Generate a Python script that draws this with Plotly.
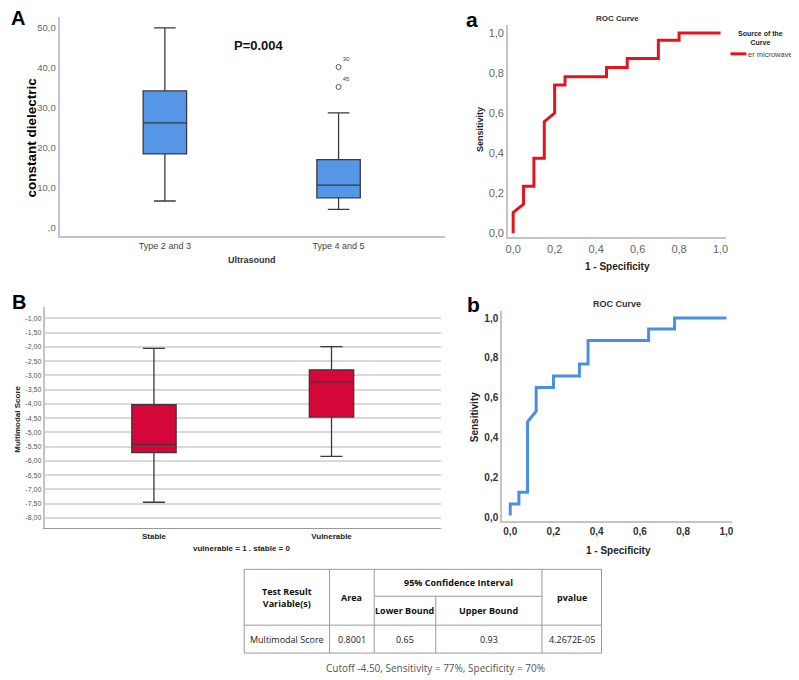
import plotly.graph_objects as go

# ---- panel A: dielectric constant by ultrasound type ----
a_groups = ["Type 2 and 3", "Type 4 and 5"]
a_low = [6.6, 4.5]
a_q1 = [18.4, 7.4]
a_med = [26.2, 10.6]
a_q3 = [34.2, 17.0]
a_high = [50.0, 28.7]
a_out_y = [40.2, 35.2]
a_out_lbl = ["30", "45"]
a_ticks = [0, 10, 20, 30, 40, 50]
a_ticktext = [",0", "10,0", "20,0", "30,0", "40,0", "50,0"]

# ---- panel a: ROC for dielectric ----
roc_a_x = [0, 0, 0.05, 0.05, 0.1, 0.1, 0.15, 0.15, 0.2, 0.2, 0.25, 0.25,
           0.45, 0.45, 0.55, 0.55, 0.7, 0.7, 0.8, 0.8, 1.0]
roc_a_y = [0, 0.104, 0.146, 0.235, 0.235, 0.375, 0.375, 0.557, 0.60, 0.74, 0.74, 0.782,
           0.782, 0.828, 0.828, 0.872, 0.872, 0.964, 0.964, 1.0, 1.0]

# ---- panel B: multimodal score ----
b_groups = ["Stable", "Vulnerable"]
b_low = [-7.45, -5.84]
b_q1 = [-5.71, -4.46]
b_med = [-5.42, -3.22]
b_q3 = [-4.02, -2.80]
b_high = [-2.05, -1.99]
b_ticks = [-1.0, -1.5, -2.0, -2.5, -3.0, -3.5, -4.0, -4.5, -5.0, -5.5, -6.0, -6.5, -7.0, -7.5, -8.0]
b_ticktext = ["-1,00", "-1,50", "-2,00", "-2,50", "-3,00", "-3,50", "-4,00", "-4,50",
              "-5,00", "-5,50", "-6,00", "-6,50", "-7,00", "-7,50", "-8,00"]

# ---- panel b: ROC for multimodal score ----
roc_b_x = [0, 0, 0.04, 0.04, 0.08, 0.08, 0.12, 0.12, 0.2, 0.2, 0.32, 0.32,
           0.36, 0.36, 0.64, 0.64, 0.76, 0.76, 1.0]
roc_b_y = [0.01, 0.067, 0.067, 0.127, 0.127, 0.48, 0.533, 0.652, 0.652, 0.71, 0.71, 0.77,
           0.77, 0.887, 0.887, 0.945, 0.945, 1.0, 1.0]
roc_ticks = [0, 0.2, 0.4, 0.6, 0.8, 1.0]
roc_ticktext = ["0,0", "0,2", "0,4", "0,6", "0,8", "1,0"]

# ---- table ----
tbl_header = ["Test Result<br>Variable(s)", "Area", "95% Confidence Interval", "pvalue"]
tbl_subheader = ["Lower Bound", "Upper Bound"]
tbl_row = ["Multimodal Score", "0.8001", "0.65", "0.93", "4.2672E-05"]
caption = "Cutoff -4.50, Sensitivity = 77%, Specificity = 70%"

# the page body keeps its 8px margin, so the figure is laid out in screen pixels minus 8
OFF = 8
W, H = 799 - OFF, 680 - OFF
ARIAL = "Liberation Sans"
AX_GRAY = "#c4c4c4"


def px(x):
    return (x - OFF) / W


def py(y):
    return 1 - (y - OFF) / H


fig = go.Figure()

# panel A boxes
fig.add_trace(go.Box(
    x=a_groups, q1=a_q1, median=a_med, q3=a_q3, lowerfence=a_low, upperfence=a_high,
    width=0.25, whiskerwidth=0.5, fillcolor="#5596e6",
    line=dict(color="#3a3a3a", width=1.3), boxpoints=False,
    xaxis="x", yaxis="y"))
fig.add_trace(go.Scatter(
    x=[a_groups[1]] * len(a_out_y), y=a_out_y, mode="markers+text",
    text=a_out_lbl, textposition="top right",
    textfont=dict(size=6, color="#444", family=ARIAL),
    marker=dict(symbol="circle-open", size=5, color="#555", line=dict(width=1)),
    xaxis="x", yaxis="y"))

# panel a ROC
fig.add_trace(go.Scatter(
    x=roc_a_x, y=roc_a_y, mode="lines", line=dict(color="#e2141c", width=3),
    xaxis="x2", yaxis="y2"))

# panel B boxes
fig.add_trace(go.Box(
    x=b_groups, q1=b_q1, median=b_med, q3=b_q3, lowerfence=b_low, upperfence=b_high,
    width=0.25, whiskerwidth=0.5, fillcolor="#d4063a",
    line=dict(color="#3a3a3a", width=1.3), boxpoints=False,
    xaxis="x3", yaxis="y3"))

# panel b ROC
fig.add_trace(go.Scatter(
    x=roc_b_x, y=roc_b_y, mode="lines", line=dict(color="#4a90e2", width=3),
    xaxis="x4", yaxis="y4"))

axis_common = dict(showline=True, linecolor=AX_GRAY, linewidth=2, ticks="",
                   showgrid=False, zeroline=False, fixedrange=True)

fig.update_layout(
    width=W, height=H, margin=dict(l=0, r=0, t=0, b=0),
    paper_bgcolor="white", plot_bgcolor="white", showlegend=False,
    font=dict(family=ARIAL, color="#222"),
    xaxis=dict(domain=[px(57), px(445)], range=[-0.606, 1.611], anchor="y",
               tickfont=dict(size=9, color="#444"), **axis_common),
    yaxis=dict(domain=[py(237), py(17)], range=[-2.25, 52.75], anchor="x",
               tickvals=a_ticks, ticktext=a_ticktext,
               tickfont=dict(size=9.5, color="#666"), **axis_common),
    xaxis2=dict(domain=[px(509), px(728)], range=[-0.024, 1.024], anchor="y2",
                tickvals=roc_ticks, ticktext=roc_ticktext,
                tickfont=dict(size=11, color="#666"), **axis_common),
    yaxis2=dict(domain=[py(238), py(25)], range=[-0.02, 1.04], anchor="x2",
                tickvals=roc_ticks, ticktext=roc_ticktext,
                tickfont=dict(size=11, color="#666"), **axis_common),
    xaxis3=dict(domain=[px(42), px(441)], range=[-0.615, 1.615], anchor="y3",
                tickfont=dict(size=8, color="#222", weight="bold"), showline=True,
                linecolor="#999", linewidth=1, ticks="", showgrid=False, zeroline=False),
    yaxis3=dict(domain=[py(530), py(308)], range=[-8.37, -0.6], anchor="x3",
                tickvals=b_ticks, ticktext=b_ticktext,
                tickfont=dict(size=7, color="#555"), showline=True, linecolor=AX_GRAY,
                linewidth=2, ticks="", showgrid=True, gridcolor="#d9d9d9",
                gridwidth=1.5, zeroline=False),
    xaxis4=dict(domain=[px(503), px(735)], range=[-0.037, 1.028], anchor="y4",
                tickvals=roc_ticks, ticktext=roc_ticktext,
                tickfont=dict(size=10, color="#333", weight="bold"), **axis_common),
    yaxis4=dict(domain=[py(523), py(312)], range=[-0.02, 1.035], anchor="x4",
                tickvals=roc_ticks, ticktext=roc_ticktext,
                tickfont=dict(size=10, color="#333", weight="bold"), **axis_common),
)

ann = []


def text(x, y, s, size, bold=False, color="#111", angle=0, family=ARIAL, xanchor="center"):
    ann.append(dict(x=px(x), y=py(y), xref="paper", yref="paper", text=s,
                    showarrow=False, textangle=angle, xanchor=xanchor, yanchor="middle",
                    font=dict(size=size, color=color, family=family,
                              weight="bold" if bold else "normal")))


# panel letters
text(15, 18, "A", 20, bold=True, color="#000")
text(473, 20, "a", 21, bold=True, color="#000")
text(16, 303, "B", 20, bold=True, color="#000")
text(474, 305, "b", 21, bold=True, color="#000")

# panel A labels
text(29, 138, "constant dielectric", 13.5, bold=True, color="#000", angle=-90)
text(251, 261, "Ultrasound", 9, bold=True, color="#333")
ann.append(dict(x=0.54, y=45.5, xref="x", yref="y", text="P=0.004", showarrow=False,
                font=dict(size=13, color="#111", family=ARIAL, weight="bold")))

# panel a labels
text(619, 19, "ROC Curve", 8, bold=True, color="#333")
text(480, 130, "Sensitivity", 9, bold=True, color="#222", angle=-90)
text(619, 267, "1 - Specificity", 10, bold=True, color="#222")
text(763, 38, "Source of the<br>Curve", 7, bold=True, color="#222")
text(749, 55, "er microwave", 7.5, color="#444", xanchor="left")

# panel B labels
text(15, 420, "Multimodal Score", 8, bold=True, color="#222", angle=-90)
text(240, 550, "vulnerable = 1 . stable = 0", 8, bold=True, color="#222")

# panel b labels
text(619, 305, "ROC Curve", 9, bold=True, color="#333")
text(475, 418, "Sensitivity", 10, bold=True, color="#222", angle=-90)
text(620, 552, "1 - Specificity", 10, bold=True, color="#222")

# table text
OS = "Open Sans"
col_x = [286, 351.5, 405, 489.5, 573]
text(col_x[0], 599, tbl_header[0], 9, bold=True, family=OS)
text(col_x[1], 599, tbl_header[1], 9, bold=True, family=OS)
text(458.5, 584, tbl_header[2], 9, bold=True, family=OS)
text(col_x[4], 599, tbl_header[3], 9, bold=True, family=OS)
text(col_x[2], 612, tbl_subheader[0], 9, bold=True, family=OS)
text(col_x[3], 612, tbl_subheader[1], 9, bold=True, family=OS)
for cx, s in zip(col_x, tbl_row):
    text(cx, 641, s, 9, family=OS, color="#222")
text(436, 670, caption, 10, family=OS, color="#555")

fig.update_layout(annotations=ann)

shapes = []


def seg(x0, y0, x1, y1, color="#9a9a9a", width=1):
    shapes.append(dict(type="line", xref="paper", yref="paper",
                       x0=px(x0), y0=py(y0), x1=px(x1), y1=py(y1),
                       line=dict(color=color, width=width)))


# table grid
for yy in [571, 627, 655]:
    seg(243, yy, 603, yy)
seg(374, 598, 543, 598)
for xx in [243, 329, 374, 543, 603]:
    seg(xx, 571, xx, 655)
seg(436, 598, 436, 655)

# legend swatch for panel a
seg(733, 54, 749, 54, color="#e2141c", width=3)

fig.update_layout(shapes=shapes)

fig.write_html("out.html")
